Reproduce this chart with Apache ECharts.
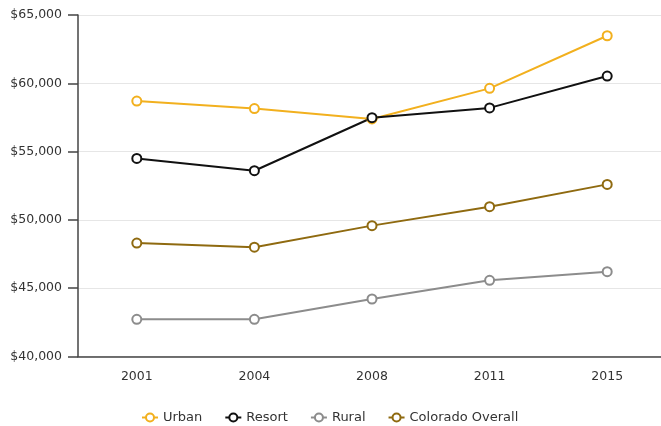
<!DOCTYPE html>
<html>
<head>
<meta charset="utf-8">
<script src="https://cdn.jsdelivr.net/npm/echarts@6/dist/echarts.min.js"></script>
<style>
  html, body { margin: 0; padding: 0; background: #fff; overflow: hidden; }
  #wrap { width: 661px; height: 426px; overflow: hidden; }
  #chart { width: 672px; height: 426px; }
</style>
</head>
<body>
<div id="wrap"><div id="chart"></div></div>
<script>
// Median household income by region type, Colorado
const years = ['2001', '2004', '2008', '2011', '2015'];
const urban = [58700, 58150, 57390, 59630, 63480];
const resort = [54500, 53600, 57480, 58200, 60530];
const rural = [42720, 42720, 44210, 45580, 46210];
const coloradoOverall = [48300, 48000, 49580, 50970, 52600];
const yTicks = [40000, 45000, 50000, 55000, 60000, 65000];

const FONT = 'DejaVu Sans';
const TEXT = '#333333';

function makeSeries(name, data, color) {
  return {
    name: name,
    type: 'line',
    data: data,
    symbol: 'circle',
    symbolSize: 9,
    showAllSymbol: true,
    lineStyle: { color: color, width: 2 },
    itemStyle: { color: '#ffffff', borderColor: color, borderWidth: 2 },
    emphasis: { disabled: true }
  };
}

const chart = echarts.init(document.getElementById('chart'), null, { renderer: 'canvas' });
chart.setOption({
  animation: false,
  textStyle: { fontFamily: FONT },
  grid: { left: 78, top: 15, right: 6, bottom: 69.5, containLabel: false },
  legend: {
    left: 141,
    top: 411,
    padding: 0,
    itemWidth: 16,
    itemHeight: 10,
    itemGap: 22,
    textStyle: { fontFamily: FONT, fontSize: 13, color: TEXT },
    data: ['Urban', 'Resort', 'Rural', 'Colorado Overall']
  },
  xAxis: {
    type: 'category',
    data: years,
    boundaryGap: true,
    axisLine: { lineStyle: { color: '#444', width: 1.5 } },
    axisTick: { alignWithLabel: true, length: 8, lineStyle: { color: '#444', width: 1.5 } },
    axisLabel: { color: TEXT, fontFamily: FONT, fontSize: 12.5, margin: 14 }
  },
  yAxis: {
    type: 'value',
    min: yTicks[0],
    max: yTicks[yTicks.length - 1],
    interval: yTicks[1] - yTicks[0],
    axisLine: { show: true, lineStyle: { color: '#444', width: 1.5 } },
    axisTick: { show: true, length: 10, lineStyle: { color: '#444', width: 1.5 } },
    splitLine: { lineStyle: { color: '#e6e6e6', width: 1 } },
    axisLabel: {
      color: TEXT, fontFamily: FONT, fontSize: 12.5, margin: 16,
      formatter: v => '$' + v.toLocaleString('en-US')
    }
  },
  series: [
    makeSeries('Urban', urban, '#F2B01E'),
    makeSeries('Resort', resort, '#111111'),
    makeSeries('Rural', rural, '#8c8c8c'),
    makeSeries('Colorado Overall', coloradoOverall, '#8F6A10')
  ]
});
</script>
</body>
</html>
